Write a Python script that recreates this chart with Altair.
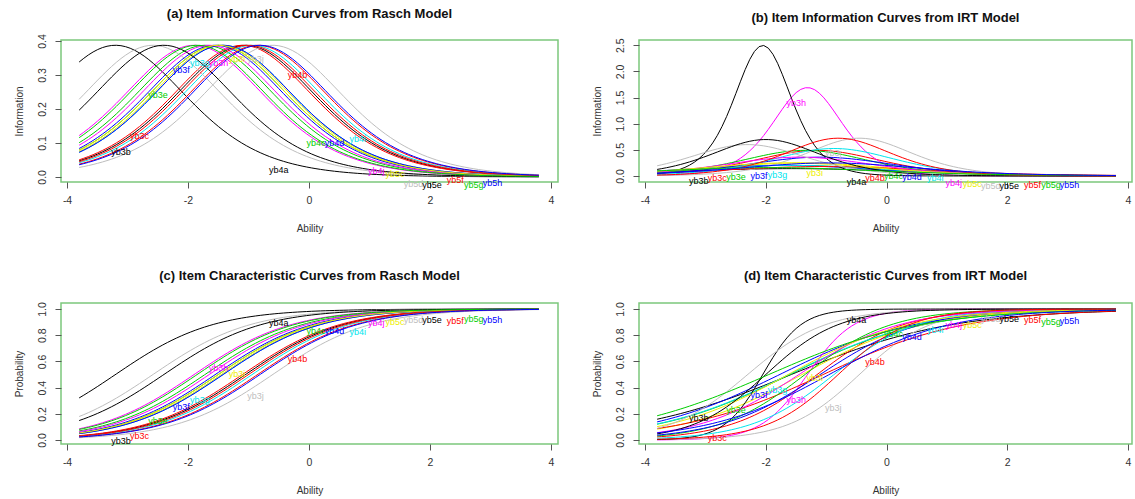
import altair as alt
import numpy as np
import pandas as pd

# ---- data ----
items = ["yb3b", "yb3c", "yb3e", "yb3f", "yb3g", "yb3h", "yb3i", "yb3j",
         "yb4a", "yb4b", "yb4c", "yb4d", "yb4i", "yb4j",
         "yb5c", "yb5d", "yb5e", "yb5f", "yb5g", "yb5h"]
item_colors = ["#000000", "#FF0000", "#00CD00", "#0000FF", "#00E5EE", "#FF00FF", "#EEEE00", "#BEBEBE",
               "#000000", "#FF0000", "#00CD00", "#0000FF", "#00E5EE", "#FF00FF", "#EEEE00", "#BEBEBE",
               "#000000", "#FF0000", "#00CD00", "#0000FF"]
# Rasch model: common discrimination, item difficulties
rasch_discrimination = 1.245
rasch_difficulty = [-1.05, -1.10, -1.50, -1.55, -1.42, -1.90, -1.45, -0.60,
                    -3.20, -0.85, -1.72, -1.42, -0.94, -1.65,
                    -1.50, -2.58, -2.40, -1.00, -1.85, -0.81]
# 2PL IRT model: discrimination and difficulty per item
irt_discrimination = [0.75, 1.40, 0.90, 0.90, 0.90, 2.60, 1.00, 1.70,
                      3.16, 0.85, 1.40, 1.20, 1.45, 1.20,
                      1.00, 1.55, 1.67, 1.70, 0.80, 1.00]
irt_difficulty = [-1.58, -1.15, -1.60, -1.77, -1.62, -1.31, -1.40, -0.45,
                  -2.05, -1.05, -1.35, -1.10, -0.87, -1.45,
                  -1.63, -2.30, -2.00, -0.80, -1.95, -0.95]

ability = np.linspace(-3.8, 3.8, 100)
label_index = np.round(np.linspace(10, 90, len(items))).astype(int) - 1

FONT = "Liberation Sans"


def build(a_list, b_list, kind):
    rows, labs = [], []
    for k, it in enumerate(items):
        a, b = a_list[k], b_list[k]
        p = 1.0 / (1.0 + np.exp(-a * (ability - b)))
        v = a * a * p * (1 - p) if kind == "info" else p
        for x, y in zip(ability, v):
            rows.append({"item": it, "ability": float(x), "value": float(y), "order": k})
        j = label_index[k]
        labs.append({"item": it, "ability": float(ability[j]), "value": float(v[j])})
    return pd.DataFrame(rows), pd.DataFrame(labs)


def panel(df, lab, title, ytitle, ydomain, yticks, xdomain, width, height, toff):
    color = alt.Color("item:N", scale=alt.Scale(domain=items, range=item_colors), legend=None)
    xscale = alt.Scale(domain=xdomain, nice=False, zero=False)
    yscale = alt.Scale(domain=ydomain, nice=False, zero=False)
    xaxis = alt.Axis(values=[-4, -2, 0, 2, 4], labelExpr="'' + datum.value",
                     title="Ability", grid=False, domain=False, tickSize=6,
                     tickColor="#555555", labelPadding=7, titlePadding=18,
                     labelFont=FONT, titleFont=FONT, labelFontSize=10.5,
                     titleFontSize=10, titleFontWeight="normal",
                     labelColor="#333333", titleColor="#333333",
                     labelOverlap=False)
    yaxis = alt.Axis(values=yticks, labelExpr="format(datum.value, '.1f')",
                     title=ytitle, grid=False,
                     domain=False, tickSize=6, tickColor="#555555",
                     labelAngle=-90, labelPadding=8, titlePadding=13,
                     labelFont=FONT, titleFont=FONT, labelFontSize=10.5,
                     titleFontSize=10, titleFontWeight="normal",
                     labelColor="#333333", titleColor="#333333",
                     labelOverlap=False, labelFlush=False, labelSeparation=0)
    lines = alt.Chart(df).mark_line(strokeWidth=1.0, clip=True).encode(
        x=alt.X("ability:Q", scale=xscale, axis=xaxis),
        y=alt.Y("value:Q", scale=yscale, axis=yaxis),
        color=color, order="order:Q")
    texts = alt.Chart(lab).mark_text(fontSize=9, font=FONT, dy=10, baseline="middle").encode(
        x=alt.X("ability:Q", scale=xscale, axis=xaxis),
        y=alt.Y("value:Q", scale=yscale, axis=yaxis),
        text="item:N", color=color)
    return alt.layer(lines, texts).properties(
        width=width, height=height,
        title=alt.TitleParams(title, fontSize=13, font=FONT, fontWeight="bold",
                              color="#111111", anchor="middle", frame="group", offset=toff))


ra_info, ra_info_lab = build([rasch_discrimination] * len(items), rasch_difficulty, "info")
irt_info, irt_info_lab = build(irt_discrimination, irt_difficulty, "info")
ra_icc, ra_icc_lab = build([rasch_discrimination] * len(items), rasch_difficulty, "icc")
irt_icc, irt_icc_lab = build(irt_discrimination, irt_difficulty, "icc")

XL = [-4.1, 4.116]
XR = [-4.1, 4.066]
pa = panel(ra_info, ra_info_lab, "(a) Item Information Curves from Rasch Model", "Information",
           [-0.015, 0.403], [0, 0.1, 0.2, 0.3, 0.4], XL, 497, 142, 13)
pb = panel(irt_info, irt_info_lab, "(b) Item Information Curves from IRT Model", "Information",
           [-0.115, 2.6], [0, 0.5, 1.0, 1.5, 2.0, 2.5], XR, 493, 142, 13)
pc = panel(ra_icc, ra_icc_lab, "(c) Item Characteristic Curves from Rasch Model", "Probability",
           [-0.03, 1.046], [0, 0.2, 0.4, 0.6, 0.8, 1.0], XL, 497, 141, 19)
pd_ = panel(irt_icc, irt_icc_lab, "(d) Item Characteristic Curves from IRT Model", "Probability",
            [-0.03, 1.046], [0, 0.2, 0.4, 0.6, 0.8, 1.0], XR, 493, 141, 19)

chart = alt.concat(pa, pb, pc, pd_, columns=2, spacing={"row": 121, "column": 81},
                   bounds="flush", align="each").properties(
    padding={"left": 13, "top": 6, "right": 0, "bottom": 0},
    background="white"
).configure_view(stroke="#7CC87C", strokeWidth=1.5).configure_axis(labelOverlap=False)

chart.save("out.html", embed_options={"renderer": "svg", "actions": False})
